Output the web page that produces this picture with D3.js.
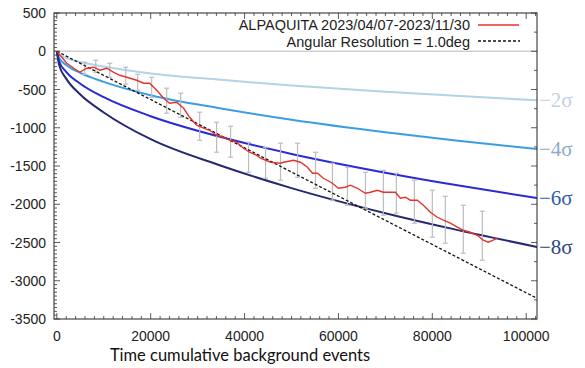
<!DOCTYPE html>
<html>
<head>
<meta charset="utf-8">
<script src="https://cdn.jsdelivr.net/npm/d3@7.9.0/dist/d3.min.js"></script>
<style>
  html, body { margin: 0; padding: 0; background: #fff; }
  svg { display: block; }
</style>
</head>
<body>
<svg id="chart" width="585" height="368"></svg>
<script>
// ---------- DATA ----------

const xTicks = [0, 20000, 40000, 60000, 80000, 100000];
const yTicks = [500, 0, -500, -1000, -1500, -2000, -2500, -3000, -3500];

// observed curve (red)
const redX = [0, 2130, 3620, 4890, 6380, 7870, 9150, 10640, 12130, 13400, 14890, 17020, 18510, 19790,
  21280, 22770, 24040, 25530, 27020, 28300, 29790, 31280, 32550, 34040, 35530, 36810, 38300, 39790,
  41060, 42550, 43400, 45530, 47660, 48300, 50430, 51910, 53400, 54470, 55530, 56810, 58720, 60000,
  61490, 62550, 64040, 65740, 66810, 68300, 69570, 71060, 72130, 73190, 74260, 75320, 76810, 78090,
  79570, 81060, 82340, 83830, 85320, 86600, 88090, 89570, 90850, 91910, 92980, 93830];
const redY = [0, -157, -222, -275, -222, -209, -248, -222, -275, -314, -340, -379, -418, -418,
  -510, -614, -680, -667, -745, -863, -967, -1006, -1033, -1098, -1124, -1163, -1189, -1268,
  -1320, -1359, -1398, -1451, -1464, -1451, -1425, -1451, -1516, -1595, -1595, -1660, -1725, -1791,
  -1778, -1751, -1791, -1856, -1843, -1817, -1843, -1843, -1843, -1921, -1908, -1947, -1947, -2013,
  -2104, -2170, -2209, -2248, -2300, -2340, -2366, -2405, -2470, -2496, -2470, -2444];

// error bars (grey)
const errX = [5960, 8300, 11280, 14680, 17230, 20210, 23400, 26380, 30430, 34040, 37020, 40850, 44470,
  47660, 51280, 55110, 58720, 61920, 65750, 69570, 72340, 76170, 80000, 82770, 86600, 90640];
const errHi = [-144, -118, -157, -209, -301, -340, -483, -549, -797, -928, -980, -1189, -1255,
  -1202, -1202, -1320, -1464, -1516, -1582, -1556, -1595, -1686, -1817, -1895, -2013, -2091];
const errLo = [-301, -275, -340, -431, -510, -601, -810, -863, -1163, -1320, -1385, -1582, -1660,
  -1686, -1647, -1791, -1947, -2013, -2052, -2143, -2117, -2248, -2431, -2509, -2640, -2732];

// expected curve for angular resolution 1.0deg (dashed)
const dashX = [0, 102300];
const dashY = [0, -3230];

// significance curves
const sigmaX = [0, 500, 2000, 5000, 10000, 20000, 35000, 50000, 70000, 85000, 102300];
const sigma2 = [0, -45, -89, -141, -200, -290, -374, -447, -529, -583, -640];
const sigma4 = [0, -89, -179, -283, -400, -575, -748, -894, -1058, -1166, -1279];
const sigma6 = [0, -134, -268, -424, -600, -849, -1122, -1342, -1587, -1749, -1919];
const sigma8 = [0, -179, -358, -566, -800, -1150, -1497, -1789, -2117, -2332, -2558];
const sigmaLabels = ["\u22122\u03c3", "\u22124\u03c3", "\u22126\u03c3", "\u22128\u03c3"];

const legendLabels = ["ALPAQUITA 2023/04/07-2023/11/30", "Angular Resolution = 1.0deg"];
const xTitle = "Time cumulative background events";

// ---------- SETUP ----------

const svg = d3.select("#chart");
const pL = 54, pR = 537, pT = 13, pB = 319;

const x = d3.scaleLinear().domain([-600, 102300]).range([pL, pR]);
const y = d3.scaleLinear().domain([-3500, 500]).range([pB, pT]);

svg.append("defs").append("clipPath").attr("id", "plotClip")
  .append("rect")
  .attr("x", pL).attr("y", pT)
  .attr("width", pR - pL).attr("height", pB - pT);

const plot = svg.append("g").attr("clip-path", "url(#plotClip)");

// zero line
plot.append("line")
  .attr("x1", pL).attr("x2", pR)
  .attr("y1", y(0)).attr("y2", y(0))
  .attr("stroke", "#cfcfcf")
  .attr("stroke-width", 1.5);

// sigma curves
const sigmaSeries = [
  { vals: sigma2, color: "#b3d3e6", label: sigmaLabels[0], labelColor: "#c2d1e0" },
  { vals: sigma4, color: "#3a9fe2", label: sigmaLabels[1], labelColor: "#8ea9c9" },
  { vals: sigma6, color: "#2a2ad6", label: sigmaLabels[2], labelColor: "#2f5db2" },
  { vals: sigma8, color: "#262872", label: sigmaLabels[3], labelColor: "#2a4687" }
];

const sigLine = d3.line()
  .x((d, i) => x(sigmaX[i]))
  .y(d => y(d))
  .curve(d3.curveMonotoneX);

plot.selectAll(".sigma")
  .data(sigmaSeries)
  .join("path")
  .attr("class", "sigma")
  .attr("fill", "none")
  .attr("stroke", d => d.color)
  .attr("stroke-width", 2)
  .attr("d", d => sigLine(d.vals));

// error bars
const errG = plot.append("g")
  .attr("stroke", "#bdbdbd")
  .attr("stroke-width", 1.2);

errX.forEach((ex, i) => {
  const cx = x(ex);
  errG.append("line").attr("x1", cx).attr("x2", cx).attr("y1", y(errHi[i])).attr("y2", y(errLo[i]));
  errG.append("line").attr("x1", cx - 2.5).attr("x2", cx + 2.5).attr("y1", y(errHi[i])).attr("y2", y(errHi[i]));
  errG.append("line").attr("x1", cx - 2.5).attr("x2", cx + 2.5).attr("y1", y(errLo[i])).attr("y2", y(errLo[i]));
});

// dashed expectation
plot.append("path")
  .attr("fill", "none")
  .attr("stroke", "#111")
  .attr("stroke-width", 1.3)
  .attr("stroke-dasharray", "3,2")
  .attr("d", d3.line().x((d, i) => x(dashX[i])).y(d => y(d))(dashY));

// red observed
plot.append("path")
  .attr("fill", "none")
  .attr("stroke", "#e2342f")
  .attr("stroke-width", 1.4)
  .attr("d", d3.line().x((d, i) => x(redX[i])).y(d => y(d))(redY));

// ---------- FRAME & TICKS ----------

svg.append("rect")
  .attr("x", pL).attr("y", pT)
  .attr("width", pR - pL).attr("height", pB - pT)
  .attr("fill", "none")
  .attr("stroke", "#222")
  .attr("stroke-width", 1);

const tickG = svg.append("g").attr("stroke", "#333").attr("stroke-width", 0.8);

d3.range(0, 102001, 2000).forEach(v => {
  const len = v % 20000 === 0 ? 6 : 3;
  tickG.append("line").attr("x1", x(v)).attr("x2", x(v)).attr("y1", pB).attr("y2", pB - len);
  tickG.append("line").attr("x1", x(v)).attr("x2", x(v)).attr("y1", pT).attr("y2", pT + len);
});

d3.range(-3500, 501, 50).forEach(v => {
  const len = v % 500 === 0 ? 6 : 3;
  tickG.append("line").attr("x1", pL).attr("x2", pL + len).attr("y1", y(v)).attr("y2", y(v));
});
d3.range(-3500, 501, 250).forEach(v => {
  const len = v % 500 === 0 ? 6 : 3;
  tickG.append("line").attr("x1", pR).attr("x2", pR - len).attr("y1", y(v)).attr("y2", y(v));
});

// tick labels
svg.append("g").selectAll("text")
  .data(xTicks)
  .join("text")
  .attr("x", d => x(d))
  .attr("y", 341)
  .attr("text-anchor", "middle")
  .attr("font-family", "'Liberation Sans', Arial, sans-serif")
  .attr("font-size", 14)
  .attr("fill", "#222")
  .text(d => d);

svg.append("g").selectAll("text")
  .data(yTicks)
  .join("text")
  .attr("x", 46)
  .attr("y", d => y(d) + 5)
  .attr("text-anchor", "end")
  .attr("font-family", "'Liberation Sans', Arial, sans-serif")
  .attr("font-size", 14)
  .attr("fill", "#222")
  .text(d => d);

// x title
svg.append("text")
  .attr("x", 240)
  .attr("y", 361)
  .attr("text-anchor", "middle")
  .attr("font-family", "Lato, 'Open Sans', sans-serif")
  .attr("font-size", 16.5)
  .attr("fill", "#111")
  .text(xTitle);

// sigma labels on the right
svg.append("g").selectAll("text")
  .data(sigmaSeries)
  .join("text")
  .attr("x", pR + 2)
  .attr("y", d => y(d.vals[d.vals.length - 1]) + 7)
  .attr("font-family", "'Liberation Serif', 'DejaVu Serif', serif")
  .attr("font-size", 21)
  .attr("fill", d => d.labelColor)
  .text(d => d.label);

// ---------- LEGEND ----------

const legend = svg.append("g");
legend.selectAll("text")
  .data(legendLabels)
  .join("text")
  .attr("x", 470)
  .attr("y", (d, i) => 30 + i * 16.5)
  .attr("text-anchor", "end")
  .attr("font-family", "'Liberation Sans', Arial, sans-serif")
  .attr("font-size", 14.5)
  .attr("fill", "#222")
  .text(d => d);

legend.append("line")
  .attr("x1", 478).attr("x2", 519).attr("y1", 25).attr("y2", 25)
  .attr("stroke", "#e2342f").attr("stroke-width", 1.4);
legend.append("line")
  .attr("x1", 478).attr("x2", 520).attr("y1", 41).attr("y2", 41)
  .attr("stroke", "#111").attr("stroke-width", 1.3).attr("stroke-dasharray", "3,2");
</script>
</body>
</html>
